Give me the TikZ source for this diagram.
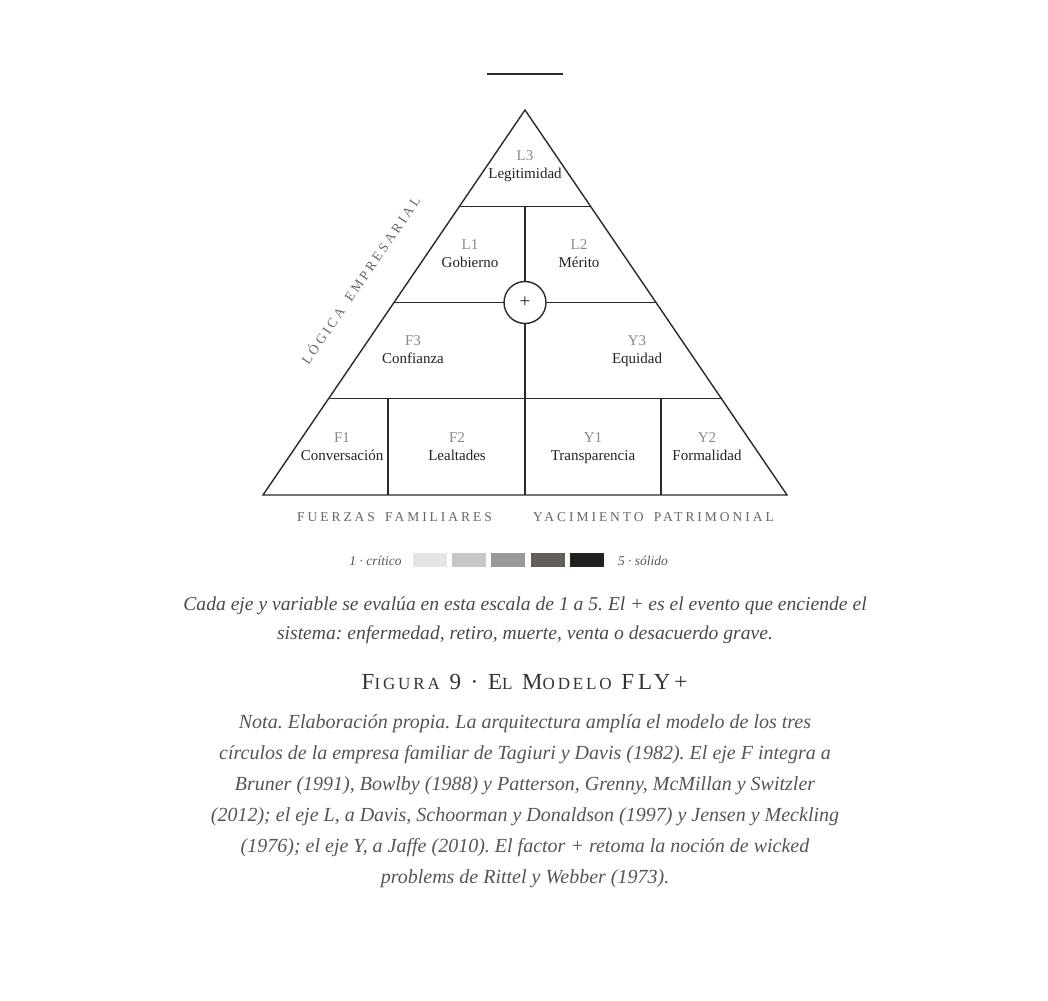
\documentclass[tikz,border=0pt]{standalone}
\usepackage{fontspec}
\setmainfont{Liberation Serif}
\newfontfamily\spacedfont[LetterSpace=22,WordSpace=1.6]{Liberation Serif}
\newfontfamily\titlefont[LetterSpace=17,WordSpace=1.0]{Liberation Serif}
\usetikzlibrary{calc}
\frenchspacing
\definecolor{linecol}{HTML}{2A2A2A}
\definecolor{codecol}{HTML}{8A8A8A}
\definecolor{namecol}{HTML}{222222}
\definecolor{axiscol}{HTML}{666666}
\definecolor{capcol}{HTML}{4A4A4A}
\definecolor{titlecol}{HTML}{333333}
\definecolor{notecol}{HTML}{555555}
\definecolor{s1}{HTML}{E6E5E3}
\definecolor{s2}{HTML}{C8C7C5}
\definecolor{s3}{HTML}{9A9896}
\definecolor{s4}{HTML}{625E5A}
\definecolor{s5}{HTML}{222120}
\begin{document}
\begin{tikzpicture}[x=1pt,y=-1pt,
  frame/.style={draw=linecol,line width=1.4pt,line join=miter},
  code/.style={anchor=base,inner sep=0pt,text=codecol,font=\fontsize{15}{18}\selectfont},
  cellname/.style={anchor=base,inner sep=0pt,text=namecol,font=\fontsize{15}{18}\selectfont},
  axis/.style={anchor=base,inner sep=0pt,text=axiscol,font=\spacedfont\fontsize{13.5}{16}\selectfont},
  capline/.style={anchor=base,inner sep=0pt,text=capcol,font=\itshape\fontsize{19.6}{24}\selectfont},
  noteline/.style={anchor=base,inner sep=0pt,text=notecol,font=\itshape\fontsize{20}{24}\selectfont},
  legend/.style={anchor=base,inner sep=0pt,text=notecol,font=\itshape\fontsize{13.5}{16}\selectfont},
  swatch/.style={minimum width=34pt,minimum height=14pt,inner sep=0pt,draw=none}
]
\useasboundingbox (0,0) rectangle (1048,1000);
\fill[white] (0,0) rectangle (1048,1000);

% top rule
\coordinate (rulel) at (487,74);
\coordinate (ruler) at (563,74);
\draw[line width=2pt,draw=linecol] (rulel) -- (ruler);

% triangle
\coordinate (apex) at (525,110);
\coordinate (bl) at (263,495);
\coordinate (br) at (787,495);
\coordinate (bm) at (525,495);
\coordinate (a1) at ($(apex)!0.25!(bl)$);
\coordinate (b1) at ($(apex)!0.25!(br)$);
\coordinate (a2) at ($(apex)!0.5!(bl)$);
\coordinate (b2) at ($(apex)!0.5!(br)$);
\coordinate (a3) at ($(apex)!0.75!(bl)$);
\coordinate (b3) at ($(apex)!0.75!(br)$);
\coordinate (m1) at ($(a1)!0.5!(b1)$);
\coordinate (v1t) at (a3 -| 388,0);
\coordinate (v1b) at (388,495);
\coordinate (v2t) at (a3 -| 661,0);
\coordinate (v2b) at (661,495);

\draw[frame] (apex) -- (bl) -- (br) -- cycle;
\draw[frame] (a1) -- (b1);
\draw[frame] (a2) -- (b2);
\draw[frame] (a3) -- (b3);
\draw[frame] (m1) -- (bm);
\draw[frame] (v1t) -- (v1b);
\draw[frame] (v2t) -- (v2b);

\node[circle,draw=linecol,line width=1.4pt,fill=white,minimum size=42pt,inner sep=0pt,
  font=\fontsize{19}{19}\selectfont,text=namecol] (plus) at ($(a2)!0.5!(b2)$) {+};

% cells
\node[code] (L3c) at (525,161) {L3};
\node[cellname] (L3) at (525,179) {Legitimidad};
\node[code] (L1c) at (470,249) {L1};
\node[cellname] (L1) at (470,267) {Gobierno};
\node[code] (L2c) at (579,249) {L2};
\node[cellname] (L2) at (579,267) {Mérito};
\node[code] (F3c) at (413,345.5) {F3};
\node[cellname] (F3) at (413,363.5) {Confianza};
\node[code] (Y3c) at (637,345.5) {Y3};
\node[cellname] (Y3) at (637,363.5) {Equidad};
\node[code] (F1c) at (342,442) {F1};
\node[cellname] (F1) at (342,460) {Conversación};
\node[code] (F2c) at (457,442) {F2};
\node[cellname] (F2) at (457,460) {Lealtades};
\node[code] (Y1c) at (593,442) {Y1};
\node[cellname] (Y1) at (593,460) {Transparencia};
\node[code] (Y2c) at (707,442) {Y2};
\node[cellname] (Y2) at (707,460) {Formalidad};

% axis labels
\node[axis] (axF) at (394.5,521) {FUERZAS FAMILIARES};
\node[axis] (axY) at (653.5,521) {YACIMIENTO PATRIMONIAL};
\node[anchor=center,inner sep=0pt,text=axiscol,font=\spacedfont\fontsize{13.5}{16}\selectfont,rotate=55.8] (axL) at (360,280) {LÓGICA EMPRESARIAL};

% legend
\node[legend] (lg1) at (375.5,565) {1 · crítico};
\node[swatch,fill=s1] (sw1) at (429.7,559.7) {};
\node[swatch,fill=s2] (sw2) at (469,559.7) {};
\node[swatch,fill=s3] (sw3) at (508,559.7) {};
\node[swatch,fill=s4] (sw4) at (547.5,559.7) {};
\node[swatch,fill=s5] (sw5) at (587,559.7) {};
\node[legend] (lg5) at (643,565) {5 · sólido};

% caption
\node[capline] (cap1) at (525,610) {Cada eje y variable se evalúa en esta escala de 1 a 5. El + es el evento que enciende el};
\node[capline] (cap2) at (525,639) {sistema: enfermedad, retiro, muerte, venta o desacuerdo grave.};

% title
\node[anchor=base,inner sep=0pt,text=titlecol] (title) at (524.5,689) {\titlefont
  {\fontsize{23}{26}\selectfont F}{\fontsize{17}{26}\selectfont IGURA}\fontsize{23}{26}\selectfont{} 9 · E{\fontsize{17}{26}\selectfont L}
  M{\fontsize{17}{26}\selectfont ODELO} FLY+};

% note
\node[noteline] (n1) at (525,728) {Nota. Elaboración propia. La arquitectura amplía el modelo de los tres};
\node[noteline] (n2) at (525,759) {círculos de la empresa familiar de Tagiuri y Davis (1982). El eje F integra a};
\node[noteline] (n3) at (525,790) {Bruner (1991), Bowlby (1988) y Patterson, Grenny, McMillan y Switzler};
\node[noteline] (n4) at (525,821) {(2012); el eje L, a Davis, Schoorman y Donaldson (1997) y Jensen y Meckling};
\node[noteline] (n5) at (525,852) {(1976); el eje Y, a Jaffe (2010). El factor + retoma la noción de wicked};
\node[noteline] (n6) at (525,883) {problems de Rittel y Webber (1973).};
\end{tikzpicture}
\end{document}
